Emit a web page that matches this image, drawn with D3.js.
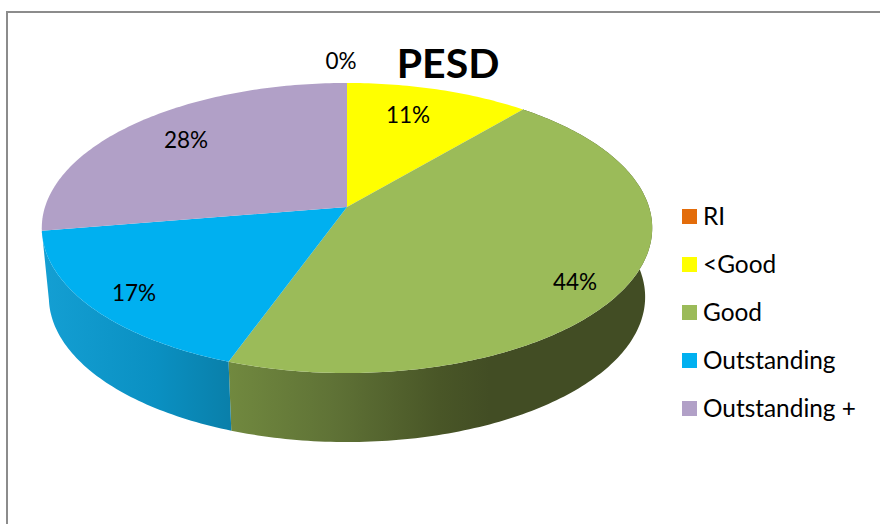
<!DOCTYPE html>
<html><head><meta charset="utf-8">
<script src="https://cdn.jsdelivr.net/npm/d3@7/dist/d3.min.js"></script>
<style>html,body{margin:0;padding:0;background:#fff}svg{display:block}text{font-family:Lato,"Open Sans",sans-serif;fill:#000}</style>
</head><body><svg id="c" width="880" height="524"></svg>
<script>
const title = "PESD";
const categories = ["RI", "<Good", "Good", "Outstanding", "Outstanding +"];
const values = [0, 11.2, 44.3, 16.9, 27.6];
const colors = ["#E36C0A", "#FFFF00", "#9BBB59", "#00B0F0", "#B1A0C7"];

const svg = d3.select("#c");
svg.append("rect").attr("x",7).attr("y",12).attr("width",880).attr("height",520)
  .attr("fill","#fff").attr("stroke","#8c8c8c").attr("stroke-width",2);

// perspective projection of a disc
const k = 0.1448;
function proj(angle, r, o){
  const u = Math.sin(angle)*r, v = -Math.cos(angle)*r, w = 1 - k*v;
  return [o.cx + o.a*u/w, o.cy + o.b*v/w];
}
const topDisc = {cx:347, cy:207, a:302, b:142};
const botDisc = {cx:347, cy:276, a:295, b:142};

const pie = d3.pie().sort(null).value(d=>d).startAngle(0).endAngle(2*Math.PI);
const arcs = pie(values);
const line = d3.line();
const defs = svg.append("defs");

function grad(id, x1, x2, stops){
  const g = defs.append("linearGradient").attr("id",id).attr("gradientUnits","userSpaceOnUse")
    .attr("x1",x1).attr("x2",x2).attr("y1",0).attr("y2",0);
  stops.forEach(s=>g.append("stop").attr("offset",s[0]).attr("stop-color",s[1]));
}
grad("side2", 228, 650, [[0,"#71893f"],[0.25,"#5f7236"],[0.5,"#495627"],[0.62,"#424d24"],[1,"#424d24"]]);
grad("side3", 42, 232, [[0,"#149fd3"],[0.6,"#0a90c2"],[1,"#0a7fa9"]]);
const sideFill = ["#b0500a","#b5b500","url(#side2)","url(#side3)","#8a7aa0"];

function arcPts(a, o, n){
  const s = d3.range(n+1).map(i=>a.startAngle+(a.endAngle-a.startAngle)*i/n);
  return s.map(t=>proj(t,1,o));
}
// sides: only the front-facing walls are visible, so the back slices are not drawn
[2,3].forEach(i=>{
  const a = arcs[i];
  const n = Math.max(2, Math.ceil((a.endAngle-a.startAngle)*60));
  const pts = arcPts(a, topDisc, n).concat(arcPts(a, botDisc, n).reverse());
  svg.append("path").attr("d", line(pts)+"Z").attr("fill", sideFill[i]);
});
// top slices
arcs.forEach((a,i)=>{
  if (a.endAngle === a.startAngle) return;
  const n = Math.max(2, Math.ceil((a.endAngle-a.startAngle)*60));
  const pts = [[topDisc.cx,topDisc.cy]].concat(arcPts(a, topDisc, n));
  svg.append("path").attr("d", line(pts)+"Z").attr("fill", colors[i]);
});

// data labels
const labelPos = [[341,61],[408,115],[575,282],[134,293],[186,140]];
values.forEach((v,i)=>{
  svg.append("text").attr("x",labelPos[i][0]).attr("y",labelPos[i][1])
    .attr("dy","0.35em").attr("text-anchor","middle").attr("font-size",22.5).text(Math.round(v)+"%");
});
svg.append("text").attr("x",448).attr("y",78).attr("text-anchor","middle")
  .attr("font-size",41).attr("font-weight",700).text(title);

// legend
const ly = d3.scalePoint().domain(categories).range([216.5,408.5]);
categories.forEach((c,i)=>{
  svg.append("rect").attr("x",682).attr("y",ly(c)-7.5).attr("width",15).attr("height",15).attr("fill",colors[i]);
  svg.append("text").attr("x",703).attr("y",ly(c)).attr("dy","0.35em").attr("font-size",24.4).text(c);
});
</script></body></html>
